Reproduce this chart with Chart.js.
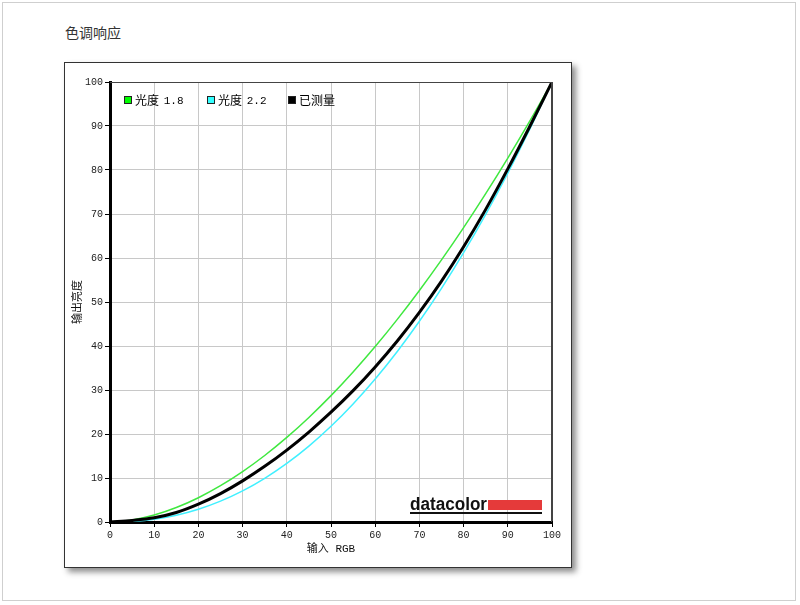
<!DOCTYPE html>
<html>
<head>
<meta charset="utf-8">
<script src="https://cdn.jsdelivr.net/npm/chart.js@4.4.1/dist/chart.umd.min.js"></script>
<style>
  html, body { margin: 0; padding: 0; background: #fff; }
  body { width: 800px; height: 605px; position: relative; overflow: hidden; }
  #page { position: absolute; left: 2px; top: 2px; width: 794px; height: 599px; border: 1px solid #cfcfcf; box-sizing: border-box; }
  #title { position: absolute; left: 65px; top: 22px; font: 14px "Noto Sans CJK SC", sans-serif; color: #333; }
  #frame { position: absolute; left: 64px; top: 62px; width: 508px; height: 506px; box-sizing: border-box; border: 1px solid #333; background: #fff; box-shadow: 4px 4px 6px rgba(0,0,0,0.45); }
  #wrap { position: absolute; left: 0; top: 0; width: 506px; height: 504px; }
</style>
</head>
<body>
<div id="page"></div>
<div id="title">色调响应</div>
<div id="frame"><div id="wrap"><canvas id="c" width="506" height="504"></canvas></div></div>
<script>
const inputRGB = [0, 5, 10, 15, 20, 25, 30, 35, 40, 45, 50, 55, 60, 65, 70, 75, 80, 85, 90, 95, 100];
const gamma18 = [0, 0.46, 1.58, 3.29, 5.52, 8.25, 11.45, 15.11, 19.22, 23.76, 28.72, 34.09, 39.87, 46.05, 52.62, 59.58, 66.92, 74.64, 82.72, 91.18, 100];
const gamma22 = [0, 0.14, 0.63, 1.54, 2.90, 4.74, 7.07, 9.93, 13.32, 17.26, 21.76, 26.84, 32.50, 38.76, 45.62, 53.11, 61.21, 69.94, 79.31, 89.33, 100];
const measured = [0, 0.35, 0.95, 2.15, 4.05, 6.45, 9.35, 12.65, 16.35, 20.45, 24.95, 29.85, 35.25, 41.15, 47.65, 54.75, 62.55, 71.05, 80.25, 89.95, 100];
const seriesNames = ["光度 1.8", "光度 2.2", "已测量"];
const seriesColors = ["#3fe83f", "#40f0ff", "#000000"];
const legendBoxColors = ["#00ff00", "#33ffff", "#000000"];
const xTitle = "输入 RGB";
const yTitle = "输出亮度";
const logoText = "datacolor";

const toPts = arr => inputRGB.map((x, i) => ({ x: x, y: arr[i] }));
const monoFont = "'Liberation Mono', 'Noto Sans CJK SC', monospace";
const cjkFont = "'Noto Sans CJK SC', 'Liberation Mono', sans-serif";

const overlay = {
  id: 'overlay',
  afterDraw(chart) {
    const { ctx, chartArea: a } = chart;
    ctx.save();
    ctx.strokeStyle = '#444';
    ctx.lineWidth = 1;
    ctx.beginPath();
    ctx.moveTo(a.left, a.top + 0.5); ctx.lineTo(a.right, a.top + 0.5);
    ctx.moveTo(a.right - 0.5, a.top); ctx.lineTo(a.right - 0.5, a.bottom);
    ctx.stroke();
    const lx = [a.left + 14, a.left + 97, a.left + 178];
    const ly = a.top + 18;
    ctx.textBaseline = 'middle';
    ctx.textAlign = 'left';
    for (let i = 0; i < seriesNames.length; i++) {
      ctx.fillStyle = legendBoxColors[i];
      ctx.fillRect(lx[i], ly - 4, 8, 8);
      ctx.strokeStyle = '#222';
      ctx.strokeRect(lx[i] + 0.5, ly - 3.5, 7, 7);
      ctx.fillStyle = '#000';
      ctx.font = "12px " + cjkFont;
      const parts = seriesNames[i].split(' ');
      ctx.fillText(parts[0], lx[i] + 11, ly);
      if (parts[1]) {
        const w = ctx.measureText(parts[0] + ' ').width;
        ctx.font = "11px " + monoFont;
        ctx.fillText(parts[1], lx[i] + 11 + w + 2, ly + 1);
      }
    }
    const rx = a.right - 10, by = a.bottom - 12;
    ctx.fillStyle = '#e53a3a';
    ctx.fillRect(rx - 54, by - 10, 54, 10);
    ctx.font = "bold 18px 'Liberation Sans', 'DejaVu Sans', sans-serif";
    const tw = ctx.measureText(logoText).width;
    ctx.save();
    ctx.translate(rx - 54 - 78, by);
    ctx.scale(77 / tw, 1);
    ctx.fillStyle = '#111';
    ctx.textBaseline = 'alphabetic';
    ctx.fillText(logoText, 0, 0);
    ctx.restore();
    ctx.fillStyle = '#111';
    ctx.fillRect(rx - 54 - 78, by + 2, 132, 2);
    ctx.restore();
  }
};

const gridColor = c => (c.tick && c.tick.value === 100) ? '#444' : '#c8c8c8';

new Chart(document.getElementById('c'), {
  type: 'line',
  data: {
    datasets: [
      { label: seriesNames[0], data: toPts(gamma18), borderColor: seriesColors[0], borderWidth: 1.5, pointRadius: 0, cubicInterpolationMode: 'monotone', order: 2 },
      { label: seriesNames[1], data: toPts(gamma22), borderColor: seriesColors[1], borderWidth: 1.5, pointRadius: 0, cubicInterpolationMode: 'monotone', order: 1 },
      { label: seriesNames[2], data: toPts(measured), borderColor: seriesColors[2], borderWidth: 3, pointRadius: 0, cubicInterpolationMode: 'monotone', order: 0 }
    ]
  },
  options: {
    responsive: false,
    animation: false,
    devicePixelRatio: 1,
    layout: { padding: { left: 0, top: 19, right: 19, bottom: 0 } },
    plugins: { legend: { display: false }, tooltip: { enabled: false } },
    scales: {
      x: {
        type: 'linear', min: 0, max: 100,
        afterFit: s => { s.height = 45; },
        ticks: { stepSize: 10, font: { family: monoFont, size: 10 }, color: '#222', padding: 2, maxRotation: 0 },
        grid: { color: gridColor, lineWidth: 1, tickLength: 5, tickColor: '#000', drawTicks: true },
        border: { color: '#000', width: 3 },
        title: { display: true, text: xTitle, font: { family: monoFont, size: 11 }, color: '#111', padding: { top: 0, bottom: 11 } }
      },
      y: {
        type: 'linear', min: 0, max: 100,
        afterFit: s => { s.width = 45; },
        ticks: { stepSize: 10, font: { family: monoFont, size: 10 }, color: '#222', padding: 2 },
        grid: { color: gridColor, lineWidth: 1, tickLength: 5, tickColor: '#000', drawTicks: true },
        border: { color: '#000', width: 3 },
        title: { display: true, text: yTitle, font: { family: cjkFont, size: 11 }, color: '#111', padding: { top: 5, bottom: 0 } }
      }
    }
  },
  plugins: [overlay]
});
</script>
</body>
</html>
